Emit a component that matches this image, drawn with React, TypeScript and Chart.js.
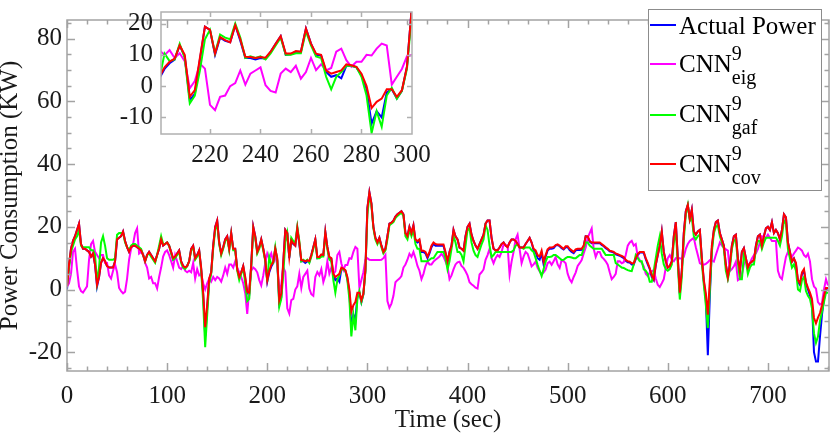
import { useEffect, useRef } from "react"
import { Chart, registerables } from "chart.js"

Chart.register(...registerables)

const STEP = 2

const ACTUAL = [
  0, 7.5, 13, 15.5, 17, 19, 21, 14.5, 13, 13,
  12.5, 12, 10.5, 11.5, 8, 1, 4, 8.5, 10, 9,
  7.5, 7, 7, 7, 9, 16, 16.5, 17, 18.5, 15.5,
  13.5, 12, 13.5, 14, 14, 13.5, 13, 12.5, 11, 9,
  11, 12, 11, 10, 9, 11, 13, 16, 14, 14.5,
  15, 14, 12, 9.5, 10, 11.5, 12.5, 9, 7.5, 7,
  7.5, 9, 13, 14, 10, 11, 12.5, 6.5, -1.5, -15,
  -6, 3, 5.5, 14, 20, 22, 15, 11.5, 13.5, 16,
  17, 13, 18, 13, 13, 6.5, 4, 5.5, 7.5, 3.5,
  -1.2, -1.5, 8, 20, 17, 12, 13.5, 16, 13, 9.5,
  2.5, 5.5, 7.3, 8.5, 13, 9.5, -4.5, -2.5, 8.5, 19,
  18, 10, 15.5, 14.5, 14, 19.5, 14.5, 9, 9, 8.5,
  9, 8.8, 11, 13.5, 16, 10, 10.2, 11, 11, 18.4,
  13.6, 10, 9.8, 4.5, 3, 3.5, 2.5, 6.5, 6.5, 6,
  3.5, -1, -12, -8, -10, -2, -1, -4, -1.5, 6.2,
  26, 31, 27.5, 20, 16.5, 15, 16.5, 14, 12, 13,
  17, 21, 21.3, 22, 23.3, 24, 24.5, 25, 24, 18,
  17, 20, 18, 20.5, 15.5, 15, 15.5, 12, 12, 11.5,
  10, 11.5, 13.5, 14.5, 14, 14, 14, 14, 14, 11.5,
  8.5, 12, 14, 19, 17, 16, 13.4, 13, 12.4, 17,
  20, 21, 17.5, 15.5, 14, 13, 14.5, 16, 17.5, 21,
  22, 22, 16.5, 13, 12.5, 12.5, 13.4, 14.5, 15, 14,
  13.5, 15, 16, 16, 15.5, 14.5, 13.4, 13.4, 13.4, 14.5,
  15.5, 16.5, 15, 12.5, 12, 10, 9.5, 11.5, 8, 10.5,
  12.5, 13, 13, 13.2, 14, 14.2, 13.8, 13.2, 12.8, 13.5,
  13.5, 12.6, 12, 11.6, 12.5, 12.6, 12.6, 12.7, 13.8, 17,
  16.8, 15.3, 14.8, 14.8, 14.8, 14.8, 14.8, 14.2, 13.8, 13.2,
  12.8, 12.2, 12, 11.8, 11.2, 11, 10.8, 10.4, 10, 9.2,
  8.7, 8.6, 8, 8, 9.7, 11, 11.8, 11.8, 11.7, 9.7,
  8, 6.5, 4, 3, 7.8, 11, 14, 18.5, 12, 9,
  7, 7.5, 9, 17, 21.5, 10, -1.5, 6, 18, 25,
  27, 22.5, 25.5, 18.5, 17.5, 18.5, 19, 10, 2.5, -3,
  -21, -2, 13, 19, 21.5, 22, 18, 16, 14, 7.9,
  4, 8, 14, 17, 17.5, 10, 5.9, 12, 13.2, 10,
  7, 8.4, 8.9, 9.4, 14, 17, 17.5, 14, 17, 19.5,
  20, 19, 21.5, 18, 19, 18, 16, 19, 24, 23,
  15, 12, 8.9, 9.9, 8, 2.5, 1.5, 5, 6, 2,
  0, -2, -4, -20, -23, -23, -15, -8, -3, 0,
  0.5,
]

const EIG = [
  1, 2, 5, 12, 13, 6.5, 1, -0.5, -1, 0,
  1, 9.5, 14.5, 15.5, 12, 11, 10, 11, 11, 8.5,
  8.5, 4.5, 3.5, 6, 8, 5.5, 0.5, -0.5, -1.2, -0.7,
  3.5, 9.5, 13, 14.5, 18, 19.5, 11.5, 12, 11.5, 8.5,
  7, 3.5, 4, 2, 2, 0.3, 4, 7, 10.5, 12,
  12.5, 11, 9, 7, 11, 9, 7, 6.5, 7.5, 6,
  5.5, 6, 5.5, 8.5, 3.5, 6.5, 4.5, 5, 2, 0,
  2, 3.5, 2.5, 4, 3, 4, 3.5, 2.5, 4.5, 7,
  5, 8, 8, 7, 9, 7, 5.5, 4, 2, -1.2,
  -7.8, 0.3, 6, 7, 6.5, 5.5, 3, 1.3, 4.5, 8.5,
  11.5, 9.9, 11.5, 9, 10.5, 8, -0.7, 1.6, 7.2, 5.6,
  -6, -7.7, -3.4, -3, 0, 1, 5, 0.5, 4, 5,
  6, 0.3, -1.5, -2, 4, 5.6, 4.5, 6.5, 2.4, 4.5,
  9, 5.1, 7, 5, 5.8, 11, 12, 8.3, 6.2, 7.8,
  7.8, 10, 9.8, 12, 13.6, 13, 0.5, 3, 5.5, 9.5,
  10, 9.5, 9.4, 9.4, 9.4, 9.4, 9.4, 9.5, 10, 11,
  -3.7, -5.8, -4.5, -2, 2.3, 3, 3.5, 4.3, 7, 8,
  9.5, 11.4, 10.4, 12, 10, 7.5, 6, 3.3, 5, 7.5,
  8.9, 8, 8, 8.9, 9.5, 10, 10.5, 11.4, 10.5, 9,
  7.4, 3.3, 4.5, 6.4, 8, 8.7, 8.9, 7.5, 6.9, 5.8,
  4.5, 2.3, 1.7, 1.2, 0.6, 0.3, 4.8, 5.5, 6.4, 9.5,
  11, 13, 10, 8.4, 10, 11, 10.4, 12, 14.4, 14.2,
  14, 4.8, 8.9, 12, 16, 17.5, 13, 8.4, 10.5, 12,
  11.4, 9.5, 7.4, 8, 8.9, 6.9, 5.8, 4.8, 5.5, 6.4,
  8.4, 8.9, 7.9, 9, 10.4, 8, 6.9, 9.4, 9, 8.4,
  5, 3.3, 2.3, 4, 5.4, 7.5, 8.4, 9.4, 11.5, 13.4,
  16.5, 18, 19.5, 13, 10.4, 12, 12, 10.4, 9.8, 9,
  7.9, 5.5, 3.3, 4, 5, 9, 9, 8.4, 8.7, 11,
  14, 15, 15.5, 14, 14.5, 10.5, 9.4, 8.5, 7.4, 5,
  4.3, 5.4, 5.9, 6.2, 3.5, 1.5, 0.8, 2, 3.3, 7,
  10, 11, 9.5, 9, 10, 10.2, 9.9, 10, 10.4, 13,
  14.5, 15.5, 16, 16.5, 13.5, 11, 8.4, 8, 7.9, 8.2,
  8.7, 9.4, 9.2, 8.9, 11, 13, 15, 14, 13.4, 12.8,
  12.4, 5.9, 6.5, 7.4, 8.9, 3, 3.5, 4.8, 8, 9.4,
  7.4, 8.5, 9.9, 11, 11.5, 13, 15, 17, 16.8, 16.5,
  17.5, 16.5, 15.5, 15.5, 15.5, 6, 4, 3.3, 7, 10.4,
  12, 11, 10.4, 11.5, 12.4, 13.4, 13, 12.4, 11, 10.4,
  11.4, 9, 3.3, 1, 0.3, -4, -4.8, -4.3, 0, 3.3,
  1.3,
]

const GAF = [
  1, 7, 12, 14, 16, 17, 19, 14, 13.5, 13.5,
  13.5, 13.5, 12.5, 12.5, 11, 2.3, 7, 15, 17, 14,
  10, 9.5, 9.5, 9.5, 10, 17.5, 18, 18, 18, 15,
  13.5, 12.5, 14, 14.5, 14.5, 14, 13.5, 13, 11, 9,
  11, 11.5, 10.5, 9.5, 8.5, 11, 14, 17, 14.5, 14.5,
  15, 14, 11.5, 9.5, 10, 11, 12, 8.5, 7, 6.5,
  7.5, 9, 12.5, 13.5, 9.5, 10.5, 12, 6, -4, -18.4,
  -8, 2, 5, 13, 19, 21, 14.5, 11, 13, 15.5,
  16.5, 12.5, 17.5, 12.5, 12.5, 6, 3, 5, 7, 2,
  -3.7, -3, 7, 19, 16.5, 11.5, 13, 15.5, 12.5, 9,
  2.5, 10.4, 8, 8.5, 13.5, 9, -5.5, -3, 5, 15,
  18, 10.5, 16.5, 15.5, 15, 20, 15.5, 9, 9.5, 9,
  9.5, 8.5, 10.5, 13, 15.5, 10, 10, 10.5, 10.5, 17.5,
  13, 9.5, 9, 3, -1, 3, 4.5, 6.5, 6.5, 6,
  3, -3, -15, -8, -13, -3, -0.5, -4, -1.5, 5.5,
  24, 30, 27, 19.5, 16, 14.5, 16, 13.5, 11.5, 12.5,
  16, 20.5, 21, 21.5, 22.8, 23.5, 24, 24.5, 23.5, 17,
  16, 19, 17, 19, 14.5, 13, 13, 9, 9, 9,
  9, 9.5, 10, 10, 11, 12, 12, 12, 12, 10,
  6.4, 9, 13, 17, 15, 12, 12, 11, 9, 14,
  19, 19.5, 15, 12.4, 11, 10.4, 12.5, 14.4, 16, 20.5,
  19, 14, 10.4, 11, 12, 12, 12, 12, 12, 12,
  12, 12, 12, 12.5, 14, 14.4, 13.5, 13.4, 13, 13.4,
  13.4, 13.4, 12.5, 12, 10, 7.9, 6, 4.3, 6.5, 8.9,
  10.4, 10.4, 10.5, 11, 11, 10.5, 10, 9.4, 9.5, 10,
  10.4, 10.4, 10.2, 10, 10, 10.5, 11, 11, 13, 15,
  15, 14, 13.5, 13, 13, 13, 13, 13, 12, 11,
  11, 11, 11, 11, 8.4, 8, 7.5, 7, 6.9, 6.5,
  6.2, 6, 5.9, 8, 11, 10, 9, 9, 6.4, 6,
  5, 2.5, 2.5, 6, 10, 14, 17, 11.5, 8, 6.5,
  6, 6.5, 8, 15, 19, 8, -3.2, 4, 16, 24,
  27, 22, 23, 17, 16, 17, 17.5, 8.5, 1.5, -5,
  -12.3, 0, 12, 18, 20, 20.5, 17, 15, 13, 6,
  3.3, 6.5, 13, 15.5, 16, 8.5, 3.3, 3.3, 11, 9,
  5, 7, 8, 8, 13, 15.5, 15.5, 13, 15, 16.5,
  16.5, 16.5, 16.5, 16.5, 16.5, 15.5, 14, 17, 22, 21,
  13, 10, 7, 8, 6, 0, -0.5, 3, 4, -0.5,
  -2, -3, -6, -14, -17, -15, -10, -7, -4, -1,
  -1,
]

const COV = [
  1, 8, 13, 15.5, 17, 19, 21, 14.5, 13, 13,
  12.5, 12, 10.5, 11.5, 8, 1.5, 4, 8.5, 10, 9,
  7.5, 7, 7, 7, 9, 16, 16.5, 17, 18.5, 15.5,
  13.5, 12, 13.5, 14, 14, 13.5, 13, 12.5, 11, 9,
  11, 12, 11, 10, 9, 11, 13, 16, 14, 14.5,
  15, 14, 12, 10, 10.5, 11.5, 12.5, 9, 7.5, 7,
  7.5, 9, 13, 14, 10, 11, 12.5, 7, -1, -12,
  -5, 3.5, 5.5, 14, 20, 22, 15, 11.5, 13.5, 16,
  17, 13, 18, 13, 13, 6.5, 4, 5.5, 7.5, 4,
  -0.7, -1, 8, 20, 17, 12, 13.5, 16, 13, 9.5,
  3, 6, 7.8, 8.8, 13, 10, -3.4, -1.3, 9, 19,
  18, 10.4, 15.7, 14.7, 14, 19.5, 15, 9.4, 9.3, 9,
  9.3, 9.1, 11, 13.5, 16, 10.4, 10.4, 11.2, 11, 18.4,
  13.6, 10.4, 10, 5, 4, 4.5, 5, 7, 6.7, 6.2,
  4, 0, -7, -5, -4, -1, -1, -3.4, -1.3, 6.2,
  26, 31, 27.5, 20, 16.5, 15, 16.5, 14, 12, 13,
  17, 21, 21.3, 22, 23.3, 24, 24.5, 25, 24, 18,
  17, 20, 18, 20.5, 16, 15.5, 16, 12.4, 12.4, 12,
  10.5, 12, 14, 15, 14.5, 14.4, 14.4, 14.4, 14.4, 12,
  9, 12, 14, 19, 17, 16, 13.4, 13, 12.4, 17,
  20, 21, 17.5, 15.5, 14, 13, 14.5, 16, 17.5, 21,
  22, 22, 16.5, 13, 12.5, 12.5, 13.4, 14.5, 15, 14,
  13.5, 15, 16, 16, 15.5, 14.5, 13.4, 13.4, 13.4, 14.5,
  15.5, 16.5, 15, 13, 12.5, 11, 10.5, 12.4, 9, 11,
  12.8, 13.4, 13.4, 13.6, 14.2, 14.4, 14, 13.5, 13, 13.8,
  13.8, 13, 12.5, 12, 12.8, 13, 13, 13, 14, 17,
  17, 15.5, 15, 15, 15, 15, 15, 14.5, 14, 13.5,
  13, 12.4, 12.2, 12, 11.5, 11.3, 11, 10.7, 10.4, 9.5,
  9, 8.9, 8.4, 8.4, 10, 11.4, 12, 12, 12, 10,
  8.5, 6.8, 4.5, 3.3, 8, 11, 14, 18.5, 12, 9,
  7, 7.5, 9, 17, 21.5, 10, -1, 6, 18, 25,
  27, 22.5, 25.5, 18.5, 17.5, 18.5, 19, 10, 3, -1.2,
  -8, 3, 14, 19, 21.5, 22, 18, 16, 14, 7.9,
  4, 8, 14, 17, 17.5, 10, 5.9, 12, 13.2, 10,
  7, 8.4, 8.9, 9.4, 14, 17, 17.5, 14, 17, 19.5,
  20, 19, 21.5, 18, 19, 18, 16, 19, 24, 23,
  15, 12, 8.9, 9.9, 8.5, 3, 2, 5.5, 6.5, 2.3,
  0.5, -1, -3, -9, -10.8, -9, -7.5, -5, -2, 0.5,
  0.5,
]

const TIMES = ACTUAL.map((_, i) => i * STEP)

const X_TICKS = [0, 100, 200, 300, 400, 500, 600, 700]
const Y_TICKS = [-20, 0, 20, 40, 60, 80]
const INSET_X_TICKS = [220, 240, 260, 280, 300]
const INSET_Y_TICKS = [-10, 0, 10, 20]

const FONT = "'Liberation Serif', 'Times New Roman', serif"
const TEXT = "#1a1a1a"

// drawn bottom-up: first entry ends on top
const SERIES = [
  { values: COV, color: "#ff0000" },
  { values: GAF, color: "#00ff00" },
  { values: EIG, color: "#ff00ff" },
  { values: ACTUAL, color: "#0000ff" },
]

const LEGEND_ROWS = [
  { color: "#0000ff", main: "Actual Power", sup: "", sub: "", lineY: 25, baseY: 34 },
  { color: "#ff00ff", main: "CNN", sup: "9", sub: "eig", lineY: 64, baseY: 72 },
  { color: "#00ff00", main: "CNN", sup: "9", sub: "gaf", lineY: 115, baseY: 122 },
  { color: "#ff0000", main: "CNN", sup: "9", sub: "cov", lineY: 164, baseY: 172 },
]

function toPoints(values: number[], from = -Infinity, to = Infinity) {
  return TIMES.map((t, i) => ({ x: t, y: values[i] })).filter((p) => p.x >= from && p.x <= to)
}

// MATLAB style box with inward ticks on all four sides
const boxPlugin = {
  id: "matlabBox",
  afterDatasetsDraw(chart: any, _args: any, opts: any) {
    const { ctx, chartArea: a } = chart
    const xs = chart.scales.x
    const ys = chart.scales.y
    const range = (min: number, max: number, step: number) => {
      const out: number[] = []
      for (let v = Math.ceil(min / step) * step; v <= max + 1e-9; v += step) out.push(v)
      return out
    }
    ctx.save()
    ctx.strokeStyle = opts.color
    ctx.lineWidth = opts.width
    ctx.beginPath()
    const xMarks = (vals: number[], len: number) => {
      vals.forEach((v) => {
        const px = Math.round(xs.getPixelForValue(v)) + 0.5
        if (px < a.left || px > a.right) return
        ctx.moveTo(px, a.bottom)
        ctx.lineTo(px, a.bottom - len)
        ctx.moveTo(px, a.top)
        ctx.lineTo(px, a.top + len)
      })
    }
    const yMarks = (vals: number[], len: number) => {
      vals.forEach((v) => {
        const py = Math.round(ys.getPixelForValue(v)) + 0.5
        if (py < a.top || py > a.bottom) return
        ctx.moveTo(a.left, py)
        ctx.lineTo(a.left + len, py)
        ctx.moveTo(a.right, py)
        ctx.lineTo(a.right - len, py)
      })
    }
    if (opts.xMinor) xMarks(range(xs.min, xs.max, opts.xMinor), opts.minorLen)
    if (opts.yMinor) yMarks(range(ys.min, ys.max, opts.yMinor), opts.minorLen)
    xMarks(opts.xMajor, opts.majorLen)
    yMarks(opts.yMajor, opts.majorLen)
    ctx.stroke()
    ctx.strokeRect(a.left, a.top, a.width, a.height)
    ctx.restore()
  },
}

const legendPlugin = {
  id: "subLegend",
  afterDraw(chart: any) {
    const ctx = chart.ctx
    ctx.save()
    ctx.fillStyle = "#ffffff"
    ctx.fillRect(648, 9, 173, 181)
    ctx.strokeStyle = "#8c8c8c"
    ctx.lineWidth = 1
    ctx.strokeRect(648.5, 9.5, 173, 181)
    ctx.textBaseline = "alphabetic"
    ctx.textAlign = "left"
    LEGEND_ROWS.forEach((row) => {
      ctx.strokeStyle = row.color
      ctx.lineWidth = 2
      ctx.beginPath()
      ctx.moveTo(650, row.lineY)
      ctx.lineTo(676, row.lineY)
      ctx.stroke()
      ctx.fillStyle = "#000000"
      ctx.font = `25px ${FONT}`
      ctx.fillText(row.main, 679, row.baseY)
      const w = ctx.measureText(row.main).width
      ctx.font = `20px ${FONT}`
      if (row.sup) ctx.fillText(row.sup, 679 + w, row.baseY - 12)
      if (row.sub) ctx.fillText(row.sub, 679 + w, row.baseY + 12)
    })
    ctx.restore()
  },
}

function axisTicks(values: number[]) {
  return (scale: any) => {
    scale.ticks = values.map((v) => ({ value: v }))
  }
}

function MainChart() {
  const chartRef = useRef<HTMLCanvasElement>(null)
  const chartInstance = useRef<Chart | null>(null)

  useEffect(() => {
    if (!chartRef.current) return
    if (chartInstance.current) chartInstance.current.destroy()

    chartInstance.current = new Chart(chartRef.current, {
      type: "line",
      data: {
        datasets: SERIES.map((s) => ({
          data: toPoints(s.values),
          borderColor: s.color,
          borderWidth: 2,
          pointRadius: 0,
          tension: 0,
          fill: false,
        })),
      },
      options: {
        animation: false,
        responsive: false,
        events: [],
        layout: { padding: { top: 2, right: 1, left: 0, bottom: 0 } },
        plugins: {
          legend: { display: false },
          tooltip: { enabled: false },
          // @ts-ignore
          matlabBox: {
            color: "#a3a3a3",
            width: 1.5,
            xMajor: X_TICKS,
            yMajor: Y_TICKS,
            xMinor: 20,
            yMinor: 5,
            majorLen: 8,
            minorLen: 4.5,
          },
        },
        scales: {
          x: {
            type: "linear",
            min: 0,
            max: 761,
            grid: { display: false, drawTicks: false },
            border: { display: false },
            afterBuildTicks: axisTicks(X_TICKS),
            afterFit: (s: any) => {
              s.height = 64
            },
            ticks: {
              font: { family: FONT, size: 25 },
              color: TEXT,
              padding: 10,
              maxRotation: 0,
              autoSkip: false,
            },
            title: {
              display: true,
              text: "Time (sec)",
              font: { family: FONT, size: 25, lineHeight: 1.2 },
              color: TEXT,
              padding: 0,
            },
          },
          y: {
            type: "linear",
            min: -26,
            max: 86,
            grid: { display: false, drawTicks: false },
            border: { display: false },
            afterBuildTicks: axisTicks(Y_TICKS),
            afterFit: (s: any) => {
              s.width = 67
            },
            ticks: {
              font: { family: FONT, size: 25 },
              color: TEXT,
              padding: 5,
              autoSkip: false,
            },
            title: {
              display: true,
              text: "Power Consumption (KW)",
              font: { family: FONT, size: 25, lineHeight: 0.84 },
              color: TEXT,
              padding: 0,
            },
          },
        },
      },
      plugins: [boxPlugin, legendPlugin],
    })

    return () => {
      if (chartInstance.current) {
        chartInstance.current.destroy()
        chartInstance.current = null
      }
    }
  }, [])

  return (
    <canvas
      ref={chartRef}
      width={830}
      height={435}
      style={{ position: "absolute", left: 0, top: 0, width: 830, height: 435 }}
    />
  )
}

function InsetChart() {
  const chartRef = useRef<HTMLCanvasElement>(null)
  const chartInstance = useRef<Chart | null>(null)

  useEffect(() => {
    if (!chartRef.current) return
    if (chartInstance.current) chartInstance.current.destroy()

    chartInstance.current = new Chart(chartRef.current, {
      type: "line",
      data: {
        datasets: SERIES.map((s) => ({
          data: toPoints(s.values, 198, 302),
          borderColor: s.color,
          borderWidth: 2,
          pointRadius: 0,
          tension: 0,
          fill: false,
        })),
      },
      options: {
        animation: false,
        responsive: false,
        events: [],
        // canvas sits at (100, -20) on the page; plot box ends up at 161..412 x 12..134
        layout: { padding: { top: 32, right: 38, left: 0, bottom: 0 } },
        plugins: {
          legend: { display: false },
          tooltip: { enabled: false },
          // @ts-ignore
          matlabBox: {
            color: "#b0b0b0",
            width: 1.5,
            xMajor: INSET_X_TICKS,
            yMajor: INSET_Y_TICKS,
            xMinor: 0,
            yMinor: 0,
            majorLen: 5,
            minorLen: 0,
          },
        },
        scales: {
          x: {
            type: "linear",
            min: 200.6,
            max: 300,
            grid: { display: false, drawTicks: false },
            border: { display: false },
            afterBuildTicks: axisTicks(INSET_X_TICKS),
            afterFit: (s: any) => {
              s.height = 36
            },
            ticks: {
              font: { family: FONT, size: 25 },
              color: TEXT,
              padding: 6,
              maxRotation: 0,
              autoSkip: false,
            },
          },
          y: {
            type: "linear",
            min: -15.3,
            max: 23.7,
            grid: { display: false, drawTicks: false },
            border: { display: false },
            afterBuildTicks: axisTicks(INSET_Y_TICKS),
            afterFit: (s: any) => {
              s.width = 61
            },
            ticks: {
              font: { family: FONT, size: 25 },
              color: TEXT,
              padding: 8,
              autoSkip: false,
            },
          },
        },
      },
      plugins: [boxPlugin],
    })

    return () => {
      if (chartInstance.current) {
        chartInstance.current.destroy()
        chartInstance.current = null
      }
    }
  }, [])

  return (
    <canvas
      ref={chartRef}
      width={350}
      height={190}
      style={{ position: "absolute", left: 100, top: -20, width: 350, height: 190 }}
    />
  )
}

export default function App() {
  return (
    <div
      style={{
        position: "absolute",
        left: 0,
        top: 0,
        width: 830,
        height: 435,
        background: "#ffffff",
        overflow: "hidden",
      }}
    >
      <MainChart />
      <InsetChart />
    </div>
  )
}
